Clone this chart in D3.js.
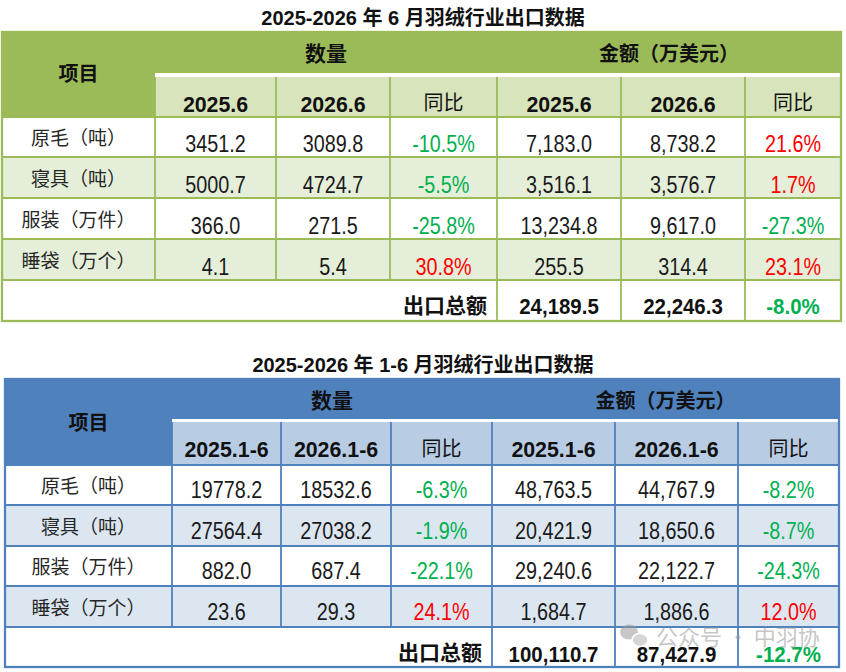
<!DOCTYPE html>
<html>
<head>
<meta charset="utf-8">
<script src="https://cdn.jsdelivr.net/npm/d3@7"></script>
<style>
  html, body { margin: 0; padding: 0; background: #fff; }
  svg { display: block; }
</style>
</head>
<body>
<div id="chart"></div>
<script>
// ==========================================
// 数据
// ==========================================
const items = ['原毛（吨）', '寝具（吨）', '服装（万件）', '睡袋（万个）'];

// 6 月
const junHeaders = ['2025.6', '2026.6', '同比', '2025.6', '2026.6', '同比'];
const junQty2025 = [3451.2, 5000.7, 366.0, 4.1];
const junQty2026 = [3089.8, 4724.7, 271.5, 5.4];
const junQtyYoy = [-10.5, -5.5, -25.8, 30.8];
const junAmt2025 = [7183.0, 3516.1, 13234.8, 255.5];
const junAmt2026 = [8738.2, 3576.7, 9617.0, 314.4];
const junAmtYoy = [21.6, 1.7, -27.3, 23.1];
const junTotal = [24189.5, 22246.3, -8.0];

// 1-6 月
const h1Headers = ['2025.1-6', '2026.1-6', '同比', '2025.1-6', '2026.1-6', '同比'];
const h1Qty2025 = [19778.2, 27564.4, 882.0, 23.6];
const h1Qty2026 = [18532.6, 27038.2, 687.4, 29.3];
const h1QtyYoy = [-6.3, -1.9, -22.1, 24.1];
const h1Amt2025 = [48763.5, 20421.9, 29240.6, 1684.7];
const h1Amt2026 = [44767.9, 18650.6, 22122.7, 1886.6];
const h1AmtYoy = [-8.2, -8.7, -24.3, 12.0];
const h1Total = [100110.7, 87427.9, -12.7];

// ==========================================
// 常量配置
// ==========================================
const W = 846, H = 672;
const CJK = '"Noto Sans CJK SC", "Noto Sans", sans-serif';
const NUM = '"Liberation Sans", Arial, sans-serif';
const UP = '#ff0000', DOWN = '#00b050';

// 用普通连字符作负号
const locale = d3.formatLocale({ decimal: '.', thousands: ',', grouping: [3], currency: ['', ''], minus: '-' });
const fmtQty = locale.format('.1f');
const fmtAmt = locale.format(',.1f');
const fmtPct = d => locale.format('.1f')(d) + '%';

const svg = d3.select('#chart').append('svg')
  .attr('width', W).attr('height', H)
  .attr('viewBox', `0 0 ${W} ${H}`);

// 普通数字：窄字体效果（横向压缩）
function numText(g, x, y, txt, opt = {}) {
  const sx = opt.sx || 0.86;
  return g.append('text')
    .attr('transform', `translate(${x},${y}) scale(${sx},1)`)
    .attr('text-anchor', opt.anchor || 'middle')
    .attr('font-family', NUM)
    .attr('font-size', opt.size || 23)
    .attr('font-weight', opt.bold ? 'bold' : 'normal')
    .attr('fill', opt.fill || '#1a1a1a')
    .text(txt);
}

function cjkText(g, x, y, txt, opt = {}) {
  return g.append('text')
    .attr('x', x).attr('y', y)
    .attr('text-anchor', opt.anchor || 'middle')
    .attr('font-family', CJK)
    .attr('font-size', opt.size || 19)
    .attr('font-weight', opt.bold ? 'bold' : 'normal')
    .attr('fill', opt.fill || '#262626')
    .text(txt);
}

// ==========================================
// 绘制表格
// ==========================================
function drawTable(cfg) {
  const g = svg.append('g');
  const xs = cfg.colEdges;   // 列边界
  const ys = cfg.rowEdges;   // [top, h1End, subTop, row1..., bottom]
  const x = i => xs[i];
  const cx = i => (xs[i] + xs[i + 1]) / 2;

  // 标题
  g.append('text')
    .attr('x', W / 2).attr('y', cfg.titleY)
    .attr('text-anchor', 'middle')
    .attr('font-family', `"Liberation Sans", ${CJK}`)
    .attr('font-size', 20).attr('font-weight', 'bold')
    .attr('fill', '#111')
    .text(cfg.title);

  const top = ys[0], h1End = ys[1], subTop = ys[2], subEnd = ys[3];
  const rowY = ys.slice(3); // 数据行边界 + 总额行
  const bottom = ys[ys.length - 1];

  // 表头背景
  g.append('rect').attr('x', x(0)).attr('y', top)
    .attr('width', x(7) - x(0)).attr('height', subEnd - top)
    .attr('fill', cfg.head);
  // 表头与子表头之间的白线
  g.append('rect').attr('x', x(1)).attr('y', h1End)
    .attr('width', x(7) - x(1)).attr('height', subTop - h1End)
    .attr('fill', '#fff');
  // 子表头
  g.selectAll('rect.sub').data(cfg.headers).enter().append('rect')
    .attr('class', 'sub')
    .attr('x', (d, i) => x(i + 1)).attr('y', subTop)
    .attr('width', (d, i) => x(i + 2) - x(i + 1)).attr('height', subEnd - subTop)
    .attr('fill', cfg.sub);

  // 数据行背景
  const rows = items.map((name, i) => ({
    name,
    vals: [cfg.qty25[i], cfg.qty26[i], cfg.qtyYoy[i], cfg.amt25[i], cfg.amt26[i], cfg.amtYoy[i]]
  }));
  g.selectAll('rect.row').data(rows).enter().append('rect')
    .attr('class', 'row')
    .attr('x', x(0)).attr('y', (d, i) => rowY[i])
    .attr('width', x(7) - x(0)).attr('height', (d, i) => rowY[i + 1] - rowY[i])
    .attr('fill', (d, i) => i % 2 ? cfg.alt : '#fff');

  // 线条
  const lw = cfg.lineW;
  const lines = g.append('g').attr('stroke', cfg.line).attr('stroke-width', lw);
  // 横线（数据区域）
  rowY.forEach(y => lines.append('line').attr('x1', x(0)).attr('x2', x(7)).attr('y1', y).attr('y2', y));
  // 竖线：子表头 + 数据行
  for (let c = 1; c < 7; c++) {
    const yEnd = c <= 3 ? rowY[rowY.length - 2] : bottom;
    lines.append('line').attr('x1', x(c)).attr('x2', x(c)).attr('y1', subTop).attr('y2', yEnd);
  }
  // 外框
  g.append('rect').attr('x', x(0)).attr('y', top)
    .attr('width', x(7) - x(0)).attr('height', bottom - top)
    .attr('fill', 'none').attr('stroke', cfg.line).attr('stroke-width', lw + 0.5);

  // 表头文字
  cjkText(g, cx(0), (top + subEnd) / 2 + cfg.off.item, '项目', { bold: true, size: 20, fill: '#111' });
  cjkText(g, (x(1) + x(4)) / 2, (top + h1End) / 2 + cfg.off.group, '数量', { bold: true, size: 21, fill: '#111' });
  cjkText(g, (x(4) + x(7)) / 2, (top + h1End) / 2 + cfg.off.group, '金额（万美元）', { bold: true, size: 20, fill: '#111' });

  cfg.headers.forEach((h, i) => {
    const yc = (subTop + subEnd) / 2;
    if (h === '同比') cjkText(g, cx(i + 1), yc + cfg.off.subCjk, h, { size: 20, fill: '#111', bold: false });
    else numText(g, cx(i + 1), yc + cfg.off.sub, h, { bold: true, size: 22, sx: 0.97, fill: '#111' });
  });

  // 数据文字
  rows.forEach((r, i) => {
    const yc = (rowY[i] + rowY[i + 1]) / 2;
    cjkText(g, cx(0), yc + cfg.off.label, r.name, { size: 19 });
    r.vals.forEach((v, j) => {
      let txt, fill = '#1a1a1a';
      if (j === 2 || j === 5) { txt = fmtPct(v); fill = v < 0 ? DOWN : UP; }
      else if (j < 2) txt = fmtQty(v);
      else txt = fmtAmt(v);
      numText(g, cx(j + 1), yc + cfg.off.num, txt, { fill });
    });
  });

  // 总额行
  const ty = (rowY[rowY.length - 2] + bottom) / 2;
  cjkText(g, x(4) - 10, ty + cfg.off.totalCjk, '出口总额', { anchor: 'end', bold: true, size: 21, fill: '#111' });
  cfg.total.forEach((v, j) => {
    const isPct = j === 2;
    numText(g, cx(j + 4), ty + cfg.off.total, isPct ? fmtPct(v) : fmtAmt(v), {
      bold: true, size: 22, sx: 0.93, fill: isPct ? (v < 0 ? DOWN : UP) : '#111'
    });
  });
  return g;
}

drawTable({
  title: '2025-2026 年 6 月羽绒行业出口数据',
  titleY: 25,
  colEdges: [2, 155, 276, 390, 497, 621, 745, 841],
  rowEdges: [32, 73, 77, 117, 157, 198, 239, 280, 321],
  headers: junHeaders,
  qty25: junQty2025, qty26: junQty2026, qtyYoy: junQtyYoy,
  amt25: junAmt2025, amt26: junAmt2026, amtYoy: junAmtYoy,
  total: junTotal,
  head: '#9bbb59', sub: '#d8e4bc', alt: '#e4eed9', line: '#9bbb59', lineW: 1.8,
  off: { item: 6.5, group: 8, sub: 15, subCjk: 13, label: 8, num: 15, total: 13.5, totalCjk: 12.5 }
});

drawTable({
  title: '2025-2026 年 1-6 月羽绒行业出口数据',
  titleY: 372,
  colEdges: [5, 172, 281, 391, 492, 615, 738, 839],
  rowEdges: [379, 419, 422, 465, 505, 546, 586, 627, 667],
  headers: h1Headers,
  qty25: h1Qty2025, qty26: h1Qty2026, qtyYoy: h1QtyYoy,
  amt25: h1Amt2025, amt26: h1Amt2026, amtYoy: h1AmtYoy,
  total: h1Total,
  head: '#4f81bd', sub: '#b8cce4', alt: '#dce6f1', line: '#4f81bd', lineW: 1.8,
  off: { item: 8, group: 9, sub: 13.5, subCjk: 12, label: 8, num: 13, total: 15, totalCjk: 13 }
});

// 水印
const wm = svg.append('g').attr('opacity', 0.55);
wm.append('ellipse').attr('cx', 629).attr('cy', 632).attr('rx', 9).attr('ry', 7.5).attr('fill', '#9a9a9a');
wm.append('ellipse').attr('cx', 640).attr('cy', 640).attr('rx', 8).attr('ry', 6.5)
  .attr('fill', '#b5b5b5').attr('stroke', '#fff').attr('stroke-width', 1.5);
wm.append('text')
  .attr('x', 656).attr('y', 645)
  .attr('font-family', CJK).attr('font-size', 22)
  .attr('fill', '#9a9a9a')
  .text('公众号 · 中羽协');
</script>
</body>
</html>
